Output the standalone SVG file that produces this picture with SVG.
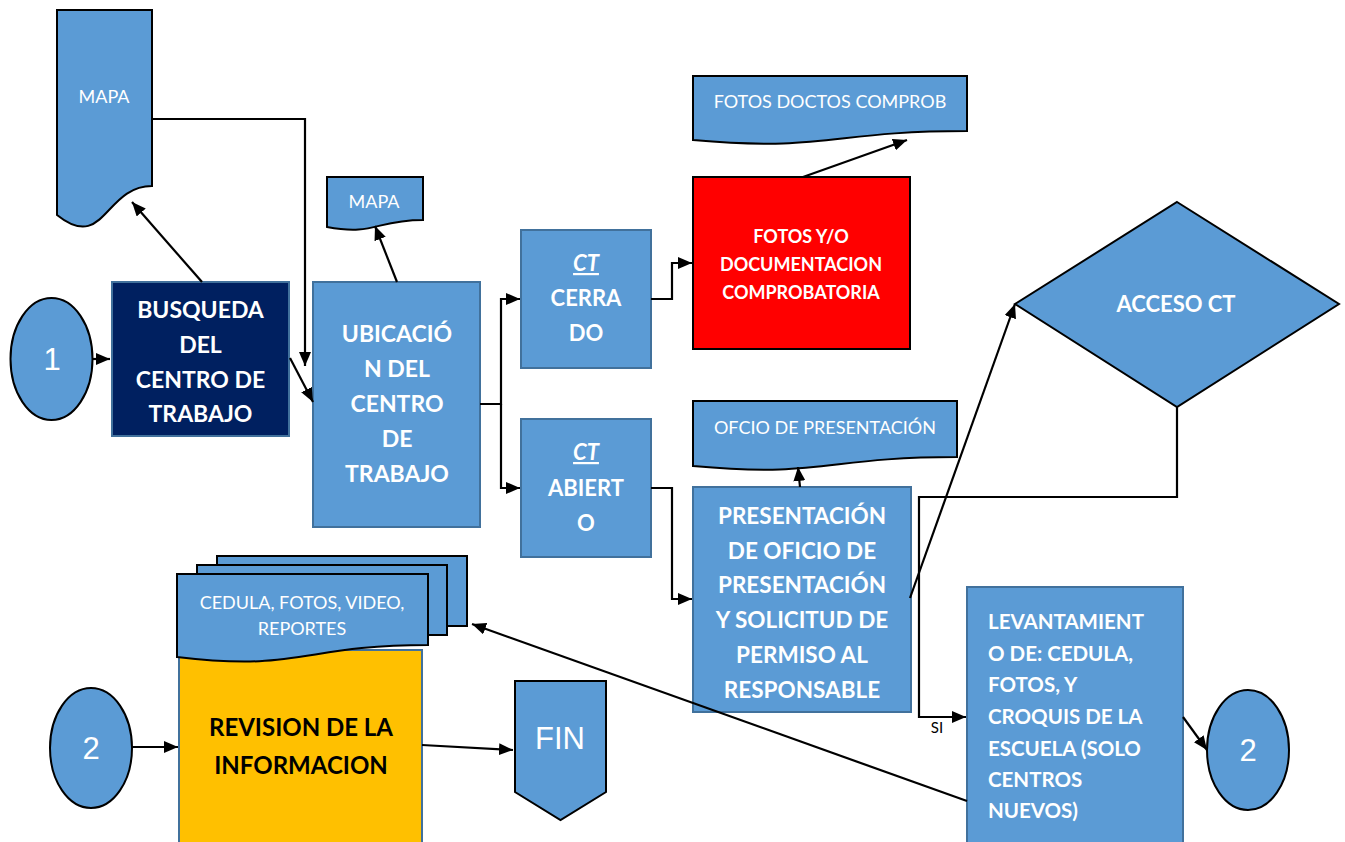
<svg xmlns="http://www.w3.org/2000/svg" width="1345" height="842" viewBox="0 0 1345 842">
<style>
.proc{fill:#5B9BD5;stroke:#41719C;stroke-width:2}
.doc{fill:#5B9BD5;stroke:#000;stroke-width:2}
.blk{stroke:#000;stroke-width:2}
.con{fill:none;stroke:#000;stroke-width:2.2}
.b{font-family:Lato,"Open Sans",sans-serif;font-weight:bold;fill:#fff;text-anchor:middle}
.l{font-family:Lato,"Open Sans",sans-serif;font-weight:bold;fill:#fff;text-anchor:start;font-size:20.5px}
.r{font-family:Lato,"Open Sans",sans-serif;fill:#fff;text-anchor:middle;font-size:18px}
.num{font-family:"Liberation Sans",Arial,sans-serif;fill:#fff;text-anchor:middle;font-size:31px}
</style>
<defs>
<marker id="ah" markerWidth="14" markerHeight="12" refX="14" refY="6" orient="auto" markerUnits="userSpaceOnUse">
<path d="M0,0 L14,6 L0,12 z" fill="#000"/>
</marker>
</defs>
<rect width="1345" height="842" fill="#fff"/>

<g id="mapa1">
<path class="doc" d="M57,10 H152 V186 C104.5,186 104.5,253 57,215 Z"/>
<text class="r" x="104" y="103">MAPA</text>
</g>

<g id="inicio1">
<ellipse class="blk" cx="51.5" cy="359" rx="41" ry="61" fill="#5B9BD5"/>
<text class="num" x="52" y="370">1</text>
</g>

<g id="busqueda">
<rect x="112" y="282" width="177" height="154" fill="#002060" stroke="#41719C" stroke-width="2"/>
<text class="b" font-size="23" x="200.5" y="318">BUSQUEDA</text>
<text class="b" font-size="23" x="200.5" y="353">DEL</text>
<text class="b" font-size="23" x="200.5" y="388">CENTRO DE</text>
<text class="b" font-size="23" x="200.5" y="422">TRABAJO</text>
</g>

<g id="mapa2">
<path class="doc" d="M327,177 H423 V220 C375,220 375,236 327,227 Z"/>
<text class="r" x="374" y="208">MAPA</text>
</g>

<g id="ubicacion">
<rect class="proc" x="313" y="282" width="167" height="245"/>
<text class="b" font-size="23" x="397" y="342">UBICACIÓ</text>
<text class="b" font-size="23" x="397" y="377">N DEL</text>
<text class="b" font-size="23" x="397" y="412">CENTRO</text>
<text class="b" font-size="23" x="397" y="447">DE</text>
<text class="b" font-size="23" x="397" y="482">TRABAJO</text>
</g>

<g id="ctcerrado">
<rect class="proc" x="521" y="230" width="130" height="138"/>
<text class="b" font-size="22" x="586" y="271" font-style="italic" text-decoration="underline">CT</text>
<text class="b" font-size="22" x="586" y="306">CERRA</text>
<text class="b" font-size="22" x="586" y="341">DO</text>
</g>

<g id="ctabierto">
<rect class="proc" x="521" y="419" width="130" height="138"/>
<text class="b" font-size="22" x="586" y="460" font-style="italic" text-decoration="underline">CT</text>
<text class="b" font-size="22" x="586" y="496">ABIERT</text>
<text class="b" font-size="22" x="586" y="531">O</text>
</g>

<g id="fotosdoctos">
<path class="doc" d="M693,76 H967 V131 C830,131 830,152 693,140 Z"/>
<text class="r" x="830" y="108">FOTOS DOCTOS COMPROB</text>
</g>

<g id="fotos">
<rect x="693" y="177" width="217" height="172" fill="#FF0000" stroke="#000" stroke-width="2"/>
<text class="b" font-size="18" x="801" y="243">FOTOS Y/O</text>
<text class="b" font-size="18" x="801" y="271">DOCUMENTACION</text>
<text class="b" font-size="18" x="801" y="299">COMPROBATORIA</text>
</g>

<g id="acceso">
<polygon class="blk" fill="#5B9BD5" points="1177,202 1339,304 1177,407 1015,304"/>
<text class="b" font-size="22" x="1176" y="312">ACCESO CT</text>
</g>

<g id="oficio">
<path class="doc" d="M693,401 H957 V457 C825,457 825,478 693,466 Z"/>
<text class="r" x="825" y="434">OFCIO DE PRESENTACIÓN</text>
</g>

<g id="presentacion">
<rect class="proc" x="693" y="487" width="218" height="225"/>
<text class="b" font-size="22.5" x="802" y="524">PRESENTACIÓN</text>
<text class="b" font-size="22.5" x="802" y="559">DE OFICIO DE</text>
<text class="b" font-size="22.5" x="802" y="593">PRESENTACIÓN</text>
<text class="b" font-size="22.5" x="802" y="628">Y SOLICITUD DE</text>
<text class="b" font-size="22.5" x="802" y="663">PERMISO AL</text>
<text class="b" font-size="22.5" x="802" y="698">RESPONSABLE</text>
</g>

<g id="levantamiento">
<rect class="proc" x="967" y="587" width="216" height="270"/>
<text class="l" x="988" y="629">LEVANTAMIENT</text>
<text class="l" x="988" y="661">O DE: CEDULA,</text>
<text class="l" x="988" y="692">FOTOS, Y</text>
<text class="l" x="988" y="724">CROQUIS DE LA</text>
<text class="l" x="988" y="756">ESCUELA (SOLO</text>
<text class="l" x="988" y="787">CENTROS</text>
<text class="l" x="988" y="818">NUEVOS)</text>
</g>

<g id="conector2b">
<ellipse class="blk" cx="1248" cy="750" rx="41" ry="60" fill="#5B9BD5"/>
<text class="num" x="1248" y="761">2</text>
</g>

<g id="revision">
<rect x="179" y="650" width="243" height="200" fill="#FFC000" stroke="#41719C" stroke-width="2"/>
<text class="b" font-size="24" x="301" y="736" style="fill:#000">REVISION DE LA</text>
<text class="b" font-size="24" x="301" y="774" style="fill:#000">INFORMACION</text>
</g>

<g id="cedula">
<rect class="doc" x="217" y="556" width="250" height="70"/>
<rect class="doc" x="197" y="565" width="250" height="70"/>
<path class="doc" d="M177,574 H428 V645 C302.5,645 302.5,672 177,657 Z"/>
<text class="r" x="302" y="609">CEDULA, FOTOS, VIDEO,</text>
<text class="r" x="302" y="635">REPORTES</text>
</g>

<g id="conector2a">
<ellipse class="blk" cx="91" cy="748" rx="41" ry="60" fill="#5B9BD5"/>
<text class="num" x="91" y="759">2</text>
</g>

<g id="fin">
<path class="blk" fill="#5B9BD5" d="M515,681 H606 V792 L560.5,820 L515,792 Z"/>
<text class="num" x="560" y="749" font-size="32">FIN</text>
</g>

<g id="connectors">
<path class="con" d="M93,359 H110" marker-end="url(#ah)"/>
<path class="con" d="M202,282 L132,202" marker-end="url(#ah)"/>
<path class="con" d="M152,119 H305 V366" marker-end="url(#ah)"/>
<path class="con" d="M290,358 L313,402" marker-end="url(#ah)"/>
<path class="con" d="M397,282 L375,226" marker-end="url(#ah)"/>
<path class="con" d="M480,404 H501 V299 H520" marker-end="url(#ah)"/>
<path class="con" d="M501,404 V488 H520" marker-end="url(#ah)"/>
<path class="con" d="M651,299 H672 V263 H692" marker-end="url(#ah)"/>
<path class="con" d="M803,177 L907,140" marker-end="url(#ah)"/>
<path class="con" d="M651,488 H672 V599 H692" marker-end="url(#ah)"/>
<path class="con" d="M800,487 L798,467" marker-end="url(#ah)"/>
<path class="con" d="M910,598 L1015,304" marker-end="url(#ah)"/>
<path class="con" d="M1177,407 V497 H919 V717 H966" marker-end="url(#ah)"/>
<path class="con" d="M1183,717 L1207,750" marker-end="url(#ah)"/>
<path class="con" d="M967,801 L472,624" marker-end="url(#ah)"/>
<path class="con" d="M132,747 H178" marker-end="url(#ah)"/>
<path class="con" d="M422,745 L513,750" marker-end="url(#ah)"/>
<text x="937" y="733" font-family="Lato,sans-serif" font-size="15" fill="#000" text-anchor="middle">SI</text>
</g>
</svg>
